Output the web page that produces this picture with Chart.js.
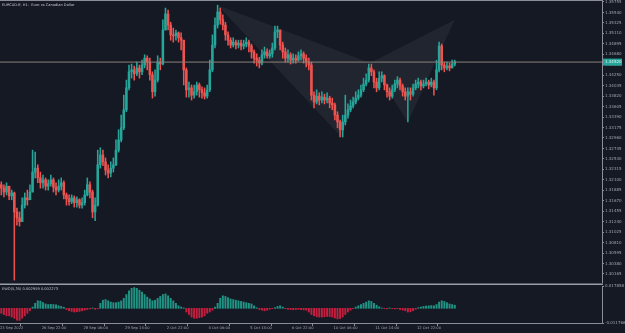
<!DOCTYPE html>
<html>
<head>
<meta charset="utf-8">
<script src="https://cdn.jsdelivr.net/npm/chart.js@4.4.1/dist/chart.umd.min.js"></script>
<style>
    html, body { margin: 0; padding: 0; background: #151924; }
    #quadro { position: relative; width: 625px; height: 333px; overflow: hidden; }
    canvas { position: absolute; left: 0; }
</style>
</head>
<body>
<div id="quadro">
    <canvas id="precos" width="625" height="283" style="top:0"></canvas>
    <canvas id="ewo" width="625" height="52" style="top:281px"></canvas>
</div>
<script>
// Velas H1 agrupadas de 2 em 2 horas (fechamento, máxima, mínima)
let primeiraAbertura = 1.3200;
let fechamentos = [
    1.3193, 1.3185, 1.3197, 1.3177, 1.3183, 1.3144, 1.3132, 1.3124, 1.3158, 1.3173,
    1.3169, 1.3185, 1.3226, 1.3234, 1.3214, 1.3204, 1.3210, 1.3197, 1.3202, 1.3210,
    1.3195, 1.3189, 1.3197, 1.3204, 1.3179, 1.3171, 1.3165, 1.3173, 1.3163, 1.3169,
    1.3158, 1.3163, 1.3179, 1.3200, 1.3185, 1.3144, 1.3158, 1.3241, 1.3261, 1.3247,
    1.3230, 1.3224, 1.3234, 1.3241, 1.3271, 1.3292, 1.3317, 1.3354, 1.3399, 1.3432,
    1.3436, 1.3428, 1.3440, 1.3432, 1.3446, 1.3460, 1.3452, 1.3426, 1.3391, 1.3415,
    1.3452, 1.3448, 1.3518, 1.3551, 1.3528, 1.3508, 1.3506, 1.3512, 1.3502, 1.3497,
    1.3436, 1.3395, 1.3399, 1.3384, 1.3391, 1.3405, 1.3395, 1.3389, 1.3382, 1.3395,
    1.3436, 1.3487, 1.3528, 1.3555, 1.3539, 1.3528, 1.3508, 1.3497, 1.3487, 1.3493,
    1.3487, 1.3491, 1.3485, 1.3489, 1.3493, 1.3485, 1.3473, 1.3460, 1.3456, 1.3450,
    1.3467, 1.3473, 1.3465, 1.3469, 1.3481, 1.3514, 1.3518, 1.3487, 1.3473, 1.3460,
    1.3467, 1.3456, 1.3460, 1.3456, 1.3465, 1.3469, 1.3460, 1.3452, 1.3446, 1.3384,
    1.3370, 1.3382, 1.3374, 1.3380, 1.3374, 1.3378, 1.3368, 1.3364, 1.3343, 1.3329,
    1.3313, 1.3329, 1.3343, 1.3354, 1.3362, 1.3370, 1.3378, 1.3384, 1.3395, 1.3407,
    1.3415, 1.3440, 1.3432, 1.3411, 1.3399, 1.3419, 1.3424, 1.3405, 1.3391, 1.3382,
    1.3395, 1.3407, 1.3415, 1.3403, 1.3391, 1.3382, 1.3391, 1.3386, 1.3399, 1.3407,
    1.3411, 1.3403, 1.3407, 1.3411, 1.3405, 1.3411, 1.3399, 1.3436, 1.3485, 1.3446,
    1.3440, 1.3444, 1.3440, 1.3448, 1.3452
];
let maximas = [
    1.3206, 1.3200, 1.3204, 1.3193, 1.3189, 1.3185, 1.3152, 1.3144, 1.3173, 1.3183,
    1.3189, 1.3200, 1.3271, 1.3267, 1.3241, 1.3226, 1.3220, 1.3214, 1.3210, 1.3220,
    1.3214, 1.3204, 1.3210, 1.3214, 1.3208, 1.3183, 1.3179, 1.3179, 1.3177, 1.3175,
    1.3171, 1.3173, 1.3189, 1.3214, 1.3206, 1.3189, 1.3173, 1.3271, 1.3276, 1.3271,
    1.3255, 1.3241, 1.3247, 1.3255, 1.3292, 1.3313, 1.3343, 1.3384, 1.3415, 1.3446,
    1.3448, 1.3444, 1.3452, 1.3446, 1.3456, 1.3467, 1.3465, 1.3460, 1.3432, 1.3436,
    1.3465, 1.3460, 1.3539, 1.3563, 1.3559, 1.3534, 1.3522, 1.3518, 1.3514, 1.3512,
    1.3497, 1.3440, 1.3411, 1.3405, 1.3405, 1.3411, 1.3409, 1.3401, 1.3399, 1.3405,
    1.3456, 1.3508, 1.3543, 1.3569, 1.3563, 1.3549, 1.3534, 1.3514, 1.3502, 1.3502,
    1.3497, 1.3497, 1.3497, 1.3497, 1.3502, 1.3497, 1.3489, 1.3477, 1.3469, 1.3462,
    1.3477, 1.3483, 1.3479, 1.3477, 1.3491, 1.3526, 1.3526, 1.3518, 1.3493, 1.3481,
    1.3477, 1.3471, 1.3469, 1.3467, 1.3473, 1.3477, 1.3473, 1.3467, 1.3460, 1.3452,
    1.3391, 1.3395, 1.3389, 1.3391, 1.3386, 1.3389, 1.3382, 1.3378, 1.3368, 1.3350,
    1.3333, 1.3343, 1.3384, 1.3366, 1.3374, 1.3380, 1.3391, 1.3395, 1.3405, 1.3419,
    1.3428, 1.3448, 1.3448, 1.3436, 1.3419, 1.3432, 1.3432, 1.3426, 1.3407, 1.3399,
    1.3405, 1.3415, 1.3422, 1.3419, 1.3407, 1.3399, 1.3399, 1.3399, 1.3407, 1.3415,
    1.3419, 1.3415, 1.3415, 1.3419, 1.3415, 1.3419, 1.3415, 1.3456, 1.3493, 1.3489,
    1.3452, 1.3452, 1.3450, 1.3456, 1.3456
];
let minimas = [
    1.3179, 1.3175, 1.3179, 1.3169, 1.3169, 1.3004, 1.3117, 1.3115, 1.3124, 1.3152,
    1.3158, 1.3169, 1.3185, 1.3214, 1.3204, 1.3193, 1.3193, 1.3189, 1.3189, 1.3197,
    1.3185, 1.3179, 1.3185, 1.3189, 1.3171, 1.3158, 1.3158, 1.3161, 1.3154, 1.3154,
    1.3152, 1.3152, 1.3158, 1.3177, 1.3173, 1.3132, 1.3126, 1.3156, 1.3234, 1.3239,
    1.3220, 1.3214, 1.3216, 1.3226, 1.3239, 1.3267, 1.3288, 1.3313, 1.3350, 1.3395,
    1.3419, 1.3415, 1.3424, 1.3419, 1.3426, 1.3440, 1.3436, 1.3415, 1.3378, 1.3382,
    1.3411, 1.3436, 1.3446, 1.3518, 1.3518, 1.3497, 1.3493, 1.3497, 1.3493, 1.3477,
    1.3405, 1.3380, 1.3380, 1.3374, 1.3378, 1.3384, 1.3380, 1.3378, 1.3376, 1.3378,
    1.3391, 1.3432, 1.3481, 1.3522, 1.3530, 1.3518, 1.3497, 1.3487, 1.3481, 1.3483,
    1.3479, 1.3481, 1.3477, 1.3479, 1.3483, 1.3473, 1.3460, 1.3450, 1.3444, 1.3440,
    1.3446, 1.3460, 1.3460, 1.3460, 1.3462, 1.3477, 1.3502, 1.3477, 1.3460, 1.3452,
    1.3452, 1.3448, 1.3450, 1.3450, 1.3454, 1.3456, 1.3450, 1.3442, 1.3436, 1.3374,
    1.3358, 1.3366, 1.3364, 1.3368, 1.3366, 1.3368, 1.3358, 1.3354, 1.3333, 1.3317,
    1.3298, 1.3298, 1.3323, 1.3337, 1.3350, 1.3358, 1.3366, 1.3374, 1.3380, 1.3391,
    1.3403, 1.3411, 1.3424, 1.3399, 1.3391, 1.3395, 1.3411, 1.3395, 1.3380, 1.3374,
    1.3378, 1.3391, 1.3399, 1.3395, 1.3382, 1.3374, 1.3329, 1.3374, 1.3382, 1.3395,
    1.3399, 1.3395, 1.3399, 1.3403, 1.3397, 1.3401, 1.3384, 1.3395, 1.3432, 1.3436,
    1.3432, 1.3436, 1.3434, 1.3440, 1.3444
];

// Histograma do EWO(5,35), um valor por vela
let valoresEwo = [
    -0.004, -0.005, -0.006, -0.006, -0.007, -0.008, -0.0095, -0.0097, -0.008, -0.006,
    -0.004, -0.002, 0.001, 0.004, 0.006, 0.0058, 0.0045, 0.0035, 0.003, 0.0032,
    0.003, 0.0028, 0.002, 0.0015, 0.0008, -0.001, -0.002, -0.0025, -0.003, -0.0028,
    -0.0025, -0.002, -0.0015, -0.001, -0.0005, 0.0003, -0.0008, -0.0004, 0.004, 0.0065,
    0.007, 0.006, 0.005, 0.0045, 0.0045, 0.005, 0.006, 0.008, 0.011, 0.014,
    0.016, 0.0166, 0.016, 0.0145, 0.013, 0.011, 0.009, 0.0075, 0.006, 0.0065,
    0.008, 0.0095, 0.011, 0.0115, 0.010, 0.008, 0.006, 0.004, 0.002, 0.001,
    0.0003, -0.003, -0.005, -0.007, -0.008, -0.008, -0.0075, -0.007, -0.006, -0.004,
    -0.003, -0.0015, 0.001, 0.004, 0.008, 0.010, 0.0095, 0.0085, 0.0075, 0.007,
    0.0065, 0.006, 0.0055, 0.005, 0.0045, 0.004, 0.0035, 0.002, 0.0005, -0.001,
    -0.0015, -0.002, -0.0015, -0.0008, -0.0003, 0.0005, 0.0015, 0.002, 0.001, -0.0003,
    -0.0008, -0.001, -0.0012, -0.001, -0.0008, -0.001, -0.0012, -0.0015, -0.003, -0.005,
    -0.006, -0.0068, -0.007, -0.007, -0.0068, -0.0065, -0.0066, -0.007, -0.0078, -0.0085,
    -0.0082, -0.007, -0.005, -0.003, -0.0015, -0.0003, 0.001, 0.002, 0.003, 0.004,
    0.005, 0.006, 0.0055, 0.004, 0.0025, 0.0012, 0.0003, -0.0003, -0.0005, 0.0003,
    -0.0002, -0.0005, -0.0003, -0.001, -0.0015, -0.002, -0.003, -0.0028, -0.002, -0.0008,
    0.0005, 0.001, 0.0015, 0.0018, 0.002, 0.0022, 0.002, 0.003, 0.005, 0.006,
    0.0055, 0.0045, 0.0035, 0.003, 0.0025
];

// Padrão harmônico XABCD (hora, preço)
let padraoHoras = [167, 262, 284, 313, 349];
let padraoPrecos = [1.3569, 1.3298, 1.3450, 1.3329, 1.3539];

// Eixos
let marcasPreco = [
    1.35755, 1.35540, 1.35325, 1.35110, 1.34895, 1.34680, 1.34465, 1.34250, 1.34035,
    1.33820, 1.33605, 1.33390, 1.33175, 1.32960, 1.32745, 1.32530, 1.32315, 1.32100,
    1.31885, 1.31670, 1.31455, 1.31240, 1.31025, 1.30810, 1.30595, 1.30380, 1.30165
];
let marcasEwo = [-0.011766, 0.017858];
let horasMarcas = [0, 32, 64, 96, 128, 160, 192, 224, 256, 288, 320];
let rotulosTempo = [
    "23 Sep 2022", "26 Sep 22:00", "28 Sep 06:00", "29 Sep 14:00", "2 Oct 22:00",
    "4 Oct 06:00", "5 Oct 14:00", "6 Oct 22:00", "10 Oct 06:00", "11 Oct 14:00", "12 Oct 22:00"
];

let titulo = "EURCAD.ff, H1:  Euro vs Canadian Dollar";
let tituloEwo = "EWO(5,35) 0.002959 0.002273";

// Cores
const verde = "#26a69a";
const vermelho = "#ef5350";
const corEixo = "#8b8e97";
const corTexto = "#a3a6ae";
const fonte = "DejaVu Sans";

const horaFinal = 462;
const precoMin = 1.29980;
const precoMax = 1.35796;

// Monta as velas (abertura = fechamento anterior)
let velas = fechamentos.map((c, i) => ({
    x: 2 * i + 1,
    o: i === 0 ? primeiraAbertura : fechamentos[i - 1],
    c: c,
    h: maximas[i],
    l: minimas[i]
}));
let ultimoPreco = fechamentos[fechamentos.length - 1];

function corVela(ctx) {
    let v = velas[ctx.dataIndex];
    if (!v) return verde;
    return v.c >= v.o ? verde : vermelho;
}

function triangulo(a, b, c) {
    let idx = [a, b, c, a];
    return idx.map(k => ({ x: padraoHoras[k], y: padraoPrecos[k] }));
}

// Desenha título, bordas e etiqueta do preço atual
const molduraPrecos = {
    id: "molduraPrecos",
    afterDraw(chart) {
        let ctx = chart.ctx;
        let area = chart.chartArea;
        ctx.save();
        ctx.fillStyle = corEixo;
        ctx.fillRect(0, 0, area.right + 1, 1);

        ctx.font = "3.6px '" + fonte + "'";
        ctx.fillStyle = "#c3c6cc";
        ctx.textBaseline = "middle";
        ctx.fillText(titulo, 2, 5);

        let y = chart.scales.y.getPixelForValue(ultimoPreco);
        ctx.fillStyle = verde;
        ctx.fillRect(area.right + 1, y - 3.5, 19, 7);
        ctx.fillStyle = "#e8f5f3";
        ctx.font = "4px '" + fonte + "'";
        ctx.fillText(ultimoPreco.toFixed(5), area.right + 3, y + 0.3);
        ctx.restore();
    }
};

const molduraEwo = {
    id: "molduraEwo",
    afterDraw(chart) {
        let ctx = chart.ctx;
        let area = chart.chartArea;
        ctx.save();
        ctx.fillStyle = "#9a9da5";
        ctx.fillRect(0, 2.5, area.right + 1, 1.5);
        ctx.font = "3.6px '" + fonte + "'";
        ctx.fillStyle = "#c3c6cc";
        ctx.textBaseline = "middle";
        ctx.fillText(tituloEwo, 2, 8.5);
        ctx.restore();
    }
};

function eixoDireito(min, max, marcas, casas) {
    return {
        position: "right",
        min: min,
        max: max,
        afterBuildTicks: s => { s.ticks = marcas.map(v => ({ value: v })); },
        afterFit: s => { s.width = 23; s.paddingTop = 0; s.paddingBottom = 0; },
        grid: { drawOnChartArea: false, drawTicks: true, tickLength: 2, color: corEixo },
        border: { display: true, color: corEixo, width: 1 },
        ticks: {
            padding: 1,
            color: corTexto,
            font: { family: fonte, size: 4 },
            callback: v => v.toFixed(casas)
        }
    };
}

// Gráfico de preços
new Chart(document.getElementById("precos").getContext("2d"), {
    type: "bar",
    data: {
        datasets: [
            {
                type: "line",
                data: triangulo(0, 1, 2),
                fill: "shape",
                backgroundColor: "rgba(255,255,255,0.055)",
                borderWidth: 0,
                pointRadius: 0,
                order: 10
            },
            {
                type: "line",
                data: triangulo(2, 3, 4),
                fill: "shape",
                backgroundColor: "rgba(255,255,255,0.055)",
                borderWidth: 0,
                pointRadius: 0,
                order: 9
            },
            {
                data: velas.map(v => ({ x: v.x, y: [v.l, v.h] })),
                backgroundColor: corVela,
                barThickness: 0.9,
                grouped: false,
                order: 3
            },
            {
                data: velas.map(v => ({ x: v.x, y: [v.o, v.c] })),
                backgroundColor: corVela,
                barThickness: 1.9,
                minBarLength: 0.6,
                grouped: false,
                order: 2
            },
            {
                type: "line",
                data: [{ x: 0, y: ultimoPreco }, { x: horaFinal, y: ultimoPreco }],
                borderColor: "#8a8278",
                borderWidth: 1,
                pointRadius: 0,
                fill: false,
                order: 1
            }
        ]
    },
    options: {
        responsive: false,
        animation: false,
        events: [],
        layout: { padding: 0 },
        plugins: { legend: { display: false }, tooltip: { enabled: false } },
        scales: {
            x: { type: "linear", min: 0, max: horaFinal, offset: false, display: false },
            y: eixoDireito(precoMin, precoMax, marcasPreco, 5)
        }
    },
    plugins: [molduraPrecos]
});

// Gráfico do EWO
new Chart(document.getElementById("ewo").getContext("2d"), {
    type: "bar",
    data: {
        datasets: [{
            data: valoresEwo.map((v, i) => ({ x: 2 * i + 1, y: v })),
            backgroundColor: ctx => (valoresEwo[ctx.dataIndex] >= 0 ? "#1f9484" : "#c41f3e"),
            barThickness: 1.3,
            grouped: false
        }]
    },
    options: {
        responsive: false,
        animation: false,
        events: [],
        layout: { padding: { top: 5 } },
        plugins: { legend: { display: false }, tooltip: { enabled: false } },
        scales: {
            x: {
                type: "linear",
                min: 0,
                max: horaFinal,
                offset: false,
                afterBuildTicks: s => { s.ticks = horasMarcas.map(h => ({ value: h })); },
                afterFit: s => { s.height = 10; s.paddingLeft = 0; s.paddingRight = 0; },
                grid: { drawOnChartArea: false, drawTicks: true, tickLength: 3, color: corEixo },
                border: { display: true, color: corEixo, width: 1 },
                ticks: {
                    autoSkip: false,
                    maxRotation: 0,
                    align: "start",
                    padding: 0,
                    color: corTexto,
                    font: { family: fonte, size: 3.7 },
                    callback: (v, i) => rotulosTempo[i]
                }
            },
            y: eixoDireito(marcasEwo[0], marcasEwo[1], marcasEwo, 6)
        }
    },
    plugins: [molduraEwo]
});
</script>
</body>
</html>
